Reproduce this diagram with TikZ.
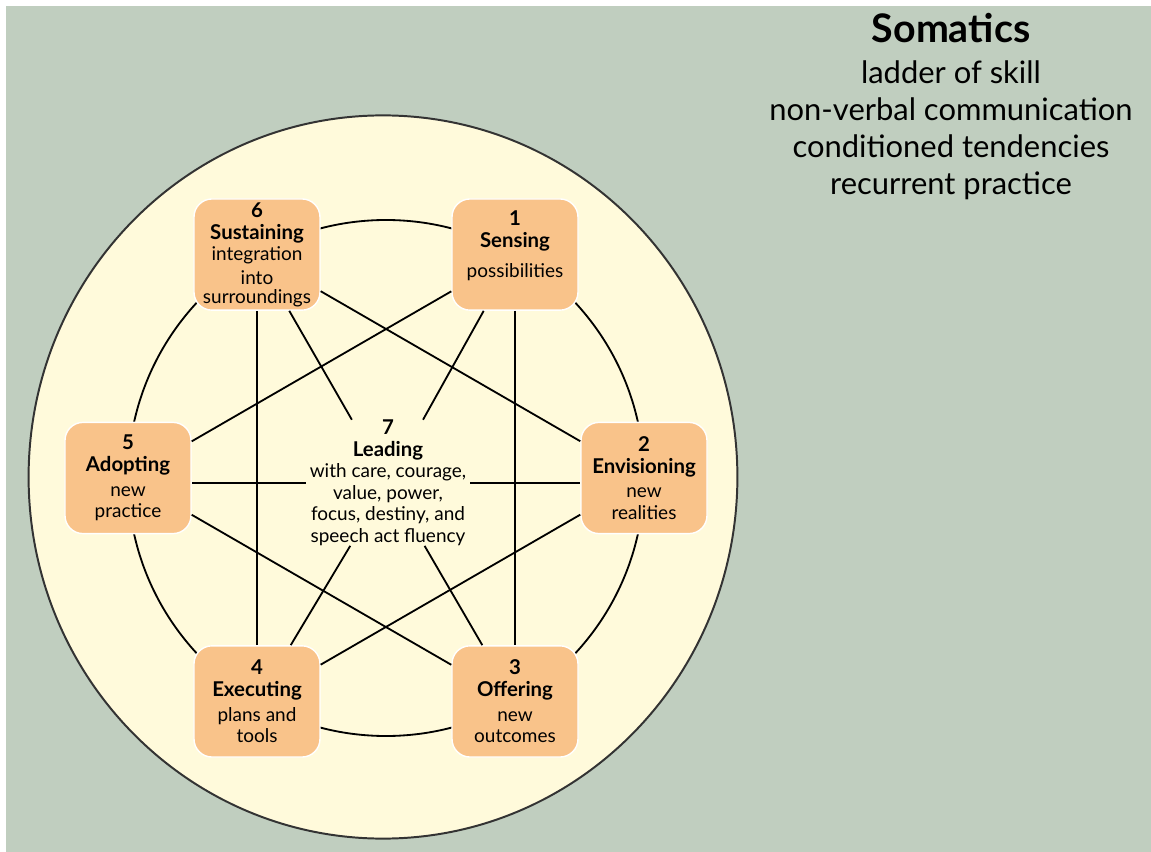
\documentclass[tikz,border=0pt]{standalone}
\usepackage{fontspec}
\setmainfont{Lato}
\usetikzlibrary{positioning}
\definecolor{sage}{HTML}{C0CEBF}
\definecolor{cream}{HTML}{FFFADB}
\definecolor{peach}{HTML}{F9C38A}
\newcommand{\hd}[1]{{\fontsize{14.5}{15.5}\selectfont\bfseries #1}}
\tikzset{stage/.style={draw=white, line width=1pt, fill=peach, rounded corners=0.45cm,
		minimum width=3.15cm, minimum height=2.78cm, align=center, inner sep=1pt,
		font=\fontsize{13.5}{15.5}\selectfont},
	link/.style={line width=1.3pt, black}}

\begin{document}
\begin{tikzpicture}
		\useasboundingbox (-9.65,-9.35) rectangle (19.125,11.95);
		\fill[white] (-9.65,-9.35) rectangle (19.125,11.95);
		\fill[sage] (-9.5,-9.35) rectangle (19.125,11.8);
		\draw[fill=cream, line width=1.4pt, draw=black!80] (-0.075,0.025) ellipse (8.86 and 9.04);
		\draw[link] (0,0) circle (6.45);
		% the six stages round the ring
		\node[stage] (s1) at (60:6.45) {\hd{1}\\\hd{Sensing}\\[6pt]possibilities\\[-1pt]~};
		\node[stage] (s2) at (0:6.45) {\hd{2}\\\hd{Envisioning}\\[2pt]new\\realities};
		\node[stage] (s3) at (-60:6.45) {\hd{3}\\\hd{Offering}\\[2pt]new\\outcomes};
		\node[stage] (s4) at (-120:6.45) {\hd{4}\\\hd{Executing}\\[2pt]plans and\\tools};
		\node[stage] (s5) at (180:6.45) {\hd{5}\\\hd{Adopting}\\[2pt]new\\practice};
		\node[stage] (s6) at (120:6.45) {\hd{6}\\\hd{Sustaining}\\integration\\[1pt]into\\[-2pt]surroundings};
		\node[align=center, minimum width=4.1cm, minimum height=3.1cm, inner sep=0pt,
			font=\fontsize{13.5}{15.3}\selectfont] (s7) at (0.05,-0.12)
			{\hd{7}\\\hd{Leading}\\with care, courage,\\value, power,\\focus, destiny, and\\speech act fluency};
		% star lines
		\foreach \a/\b in {s6/s2, s2/s4, s4/s6, s1/s3, s3/s5, s5/s1, s6/s7, s1/s7, s3/s7, s4/s7}
			\draw[link] (\a) -- (\b);
		\draw[link] (s7) -- (s5.east |- s7);
		\draw[link] (s7) -- (s2.west |- s7);
		% heading on the right
		\node[font=\fontsize{28}{32}\selectfont\bfseries] (title) at (14.125,11.25) {Somatics};
		\node[align=center, font=\fontsize{22}{26.2}\selectfont] (skills) at (14.125,8.69)
			{ladder of skill\\non-verbal communication\\conditioned tendencies\\recurrent practice};
		\end{tikzpicture}
\end{document}
